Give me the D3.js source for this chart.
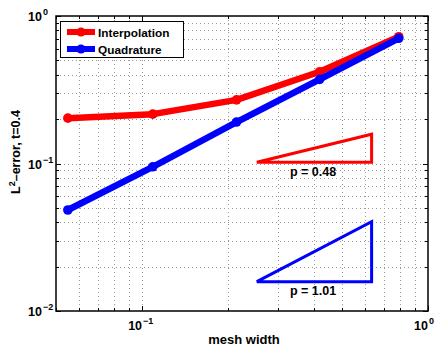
<!DOCTYPE html>
<html>
<head>
<meta charset="utf-8">
<script src="https://cdn.jsdelivr.net/npm/d3@7"></script>
<style>
body { margin: 0; background: #fff; }
text { font-family: "Liberation Sans", Arial, sans-serif; font-weight: bold; }
</style>
</head>
<body>
<div id="chart"></div>
<script>
const meshWidth = [0.055, 0.109, 0.214, 0.418, 0.79];
const interpError = [0.203, 0.216, 0.27, 0.419, 0.724];
const quadError = [0.0484, 0.095, 0.191, 0.372, 0.706];
const seriesNames = ["Interpolation", "Quadrature"];
const seriesColors = ["#ff0000", "#0000ff"];

// slope triangles: [x0, x1], [yLow, yHigh], label
const triX = [0.252, 0.635];
const redTriY = [0.102, 0.158];
const blueTriY = [0.0158, 0.0403];
const slopeLabels = ["p = 0.48", "p = 1.01"];

const width = 438, height = 346;
const margin = ({top: 16, right: 10, bottom: 35, left: 56});

const x = d3.scaleLog().domain([0.05, 1]).range([margin.left, width - margin.right]);
const y = d3.scaleLog().domain([0.01, 1]).range([height - margin.bottom, margin.top]);

const svg = d3.select("#chart").append("svg")
	.attr("width", width)
	.attr("height", height);

// minor + major log positions
const xTicks = [];
for (let k = 5; k <= 9; k++) xTicks.push(k / 100);
for (let k = 1; k <= 9; k++) xTicks.push(k / 10);
xTicks.push(1);
const yTicks = [];
for (let k = 1; k <= 9; k++) yTicks.push(k / 100);
for (let k = 1; k <= 9; k++) yTicks.push(k / 10);
yTicks.push(1);
const isMajor = v => Math.abs(Math.log10(v) - Math.round(Math.log10(v))) < 1e-9;

const grid = svg.append("g").attr("class", "grid")
	.attr("stroke", "#9a9a9a")
	.attr("stroke-width", 1)
	.attr("stroke-dasharray", "1,3");

grid.selectAll(".gx").data(xTicks.filter(v => v > 0.05 && v < 1)).join("line")
	.attr("x1", d => Math.round(x(d)) + 0.5).attr("x2", d => Math.round(x(d)) + 0.5)
	.attr("y1", y(1)).attr("y2", y(0.01));
grid.selectAll(".gy").data(yTicks.filter(v => v > 0.01 && v < 1)).join("line")
	.attr("y1", d => Math.round(y(d)) + 0.5).attr("y2", d => Math.round(y(d)) + 0.5)
	.attr("x1", x(0.05)).attr("x2", x(1));

// inward tick marks on all four sides
const ticksG = svg.append("g").attr("stroke", "#000").attr("stroke-width", 1);
xTicks.forEach(v => {
	const len = isMajor(v) ? 5 : 3;
	const px = Math.round(x(v)) + 0.5;
	ticksG.append("line").attr("x1", px).attr("x2", px).attr("y1", y(0.01)).attr("y2", y(0.01) - len);
	ticksG.append("line").attr("x1", px).attr("x2", px).attr("y1", y(1)).attr("y2", y(1) + len);
});
yTicks.forEach(v => {
	const len = isMajor(v) ? 5 : 3;
	const py = Math.round(y(v)) + 0.5;
	ticksG.append("line").attr("y1", py).attr("y2", py).attr("x1", x(0.05)).attr("x2", x(0.05) + len);
	ticksG.append("line").attr("y1", py).attr("y2", py).attr("x1", x(1)).attr("x2", x(1) - len);
});

// frame
svg.append("rect")
	.attr("x", x(0.05)).attr("y", y(1))
	.attr("width", x(1) - x(0.05)).attr("height", y(0.01) - y(1))
	.attr("fill", "none").attr("stroke", "#000").attr("stroke-width", 1.5);

// tick labels: "10" ends at anchor point, exponent follows
function powLabel(g, px, py, exp) {
	g.append("text")
		.attr("x", px).attr("y", py)
		.attr("text-anchor", "end")
		.attr("font-size", 12.5)
		.text("10");
	g.append("text")
		.attr("x", px + 1).attr("y", py - 6)
		.attr("font-size", 9)
		.text(exp);
}
const labels = svg.append("g");
const expText = e => e === 0 ? "0" : "\u2212" + (-e);
[0, -1, -2].forEach(e => powLabel(labels, x(0.05) - 14, y(Math.pow(10, e)) + 5, expText(e)));
[-1, 0].forEach(e => powLabel(labels, x(Math.pow(10, e)), 330, expText(e)));

svg.append("text")
	.attr("x", 244).attr("y", 344)
	.attr("text-anchor", "middle").attr("font-size", 13)
	.text("mesh width");

const yl = svg.append("text")
	.attr("transform", `translate(20,152) rotate(-90)`)
	.attr("text-anchor", "middle").attr("font-size", 12.5);
yl.append("tspan").text("L");
yl.append("tspan").attr("font-size", 9).attr("dy", -5).text("2");
yl.append("tspan").attr("dy", 5).text("\u2013error, t=0.4");

// series
const line = d3.line()
	.x(d => x(d[0]))
	.y(d => y(d[1]));

[interpError, quadError].forEach((vals, i) => {
	const pts = meshWidth.map((m, j) => [m, vals[j]]);
	svg.append("path")
		.attr("d", line(pts))
		.attr("fill", "none")
		.attr("stroke", seriesColors[i])
		.attr("stroke-width", 6.5)
		.attr("stroke-linejoin", "round");
	svg.append("g").selectAll("circle").data(pts).join("circle")
		.attr("cx", d => x(d[0])).attr("cy", d => y(d[1]))
		.attr("r", 4.8)
		.attr("fill", seriesColors[i]);
});

// slope triangles
[[redTriY, seriesColors[0], slopeLabels[0]], [blueTriY, seriesColors[1], slopeLabels[1]]].forEach(([ty, c, lab]) => {
	const pts = [[triX[0], ty[0]], [triX[1], ty[1]], [triX[1], ty[0]]];
	svg.append("path")
		.attr("d", line(pts) + "Z")
		.attr("fill", "none")
		.attr("stroke", c)
		.attr("stroke-width", 3)
		.attr("stroke-linejoin", "miter");
	svg.append("text")
		.attr("x", 313).attr("y", y(ty[0]) + 13.5)
		.attr("text-anchor", "middle").attr("font-size", 12.5)
		.text(lab);
});

// legend
const legend = svg.append("g");
legend.append("rect")
	.attr("x", 60.5).attr("y", 21.5).attr("width", 123).attr("height", 36)
	.attr("fill", "#fff").attr("stroke", "#000").attr("stroke-width", 1);
seriesNames.forEach((n, i) => {
	const ly = 32 + i * 17;
	legend.append("line")
		.attr("x1", 67).attr("x2", 95).attr("y1", ly).attr("y2", ly)
		.attr("stroke", seriesColors[i]).attr("stroke-width", 6);
	legend.append("circle").attr("cx", 81).attr("cy", ly).attr("r", 4.5).attr("fill", seriesColors[i]);
	legend.append("text")
		.attr("x", 98).attr("y", ly + 4.5)
		.attr("font-size", 11.8)
		.text(n);
});
</script>
</body>
</html>
